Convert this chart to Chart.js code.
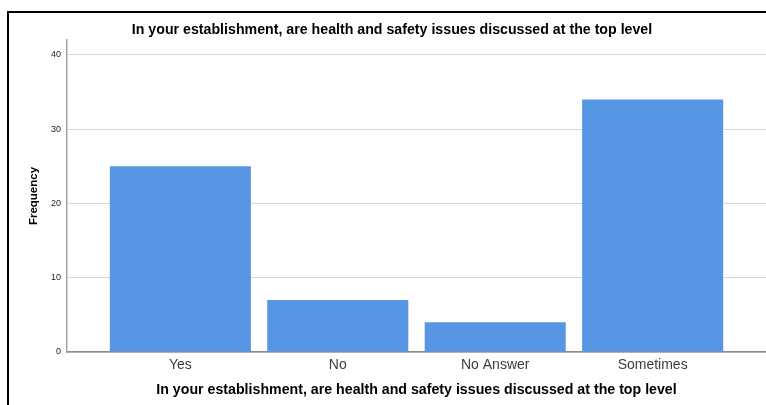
<!DOCTYPE html>
<html lang="en">
<head>
    <meta charset="UTF-8">
    <script src="https://cdn.jsdelivr.net/npm/chart.js"></script>
    <title>Health and safety at the top level</title>
    <style>
        body {
            margin: 0;
            padding: 0;
            background-color: #ffffff;
            font-family: Arial, "Liberation Sans", sans-serif;
        }

        .wrap {
            position: relative;
            width: 766px;
            height: 405px;
        }

        .frame {
            position: absolute;
            left: 7px;
            top: 11px;
            right: 0;
            bottom: 0;
            border-top: 2px solid #000;
            border-left: 2px solid #000;
            pointer-events: none;
        }
    </style>
</head>
<body>
    <div class="wrap">
        <canvas id="freqChart" width="766" height="405"></canvas>
        <div class="frame"></div>
    </div>

    <script>
        // data
        const categories = ['Yes', 'No', 'No Answer', 'Sometimes'];
        const frequencies = [25, 7, 4, 34];
        const yTicks = [0, 10, 20, 30, 40];

        const questionText = 'In your establishment, are health and safety issues discussed at the top level';
        const fontFamily = 'Arial, "Liberation Sans", sans-serif';

        const ctx = document.getElementById('freqChart').getContext('2d');
        new Chart(ctx, {
            type: 'bar',
            data: {
                datasets: [{
                    label: 'Frequency',
                    data: categories.map((c, i) => ({ x: i, y: frequencies[i] })),
                    backgroundColor: '#5795e5',
                    borderWidth: 0,
                    categoryPercentage: 1,
                    barPercentage: 0.896
                }]
            },
            options: {
                responsive: false,
                animation: false,
                layout: { padding: { left: 18, right: 0, top: 0, bottom: 0 } },
                plugins: {
                    legend: { display: false },
                    tooltip: { enabled: false },
                    title: {
                        display: true,
                        text: questionText,
                        color: '#000',
                        font: { family: fontFamily, size: 14.2, weight: 'bold' },
                        padding: { top: 22, bottom: 1 }
                    }
                },
                scales: {
                    x: {
                        type: 'linear',
                        min: -0.72,
                        max: 3.72,
                        offset: false,
                        grid: { display: false, drawTicks: false },
                        border: { display: true, color: '#8c8c8c', width: 1.5 },
                        afterBuildTicks: s => { s.ticks = categories.map((c, i) => ({ value: i })); },
                        afterFit: s => { s.height = 53; },
                        ticks: {
                            autoSkip: false,
                            maxRotation: 0,
                            padding: 5,
                            color: '#3c3c3c',
                            font: { family: fontFamily, size: 14 },
                            callback: v => categories[v]
                        },
                        title: {
                            display: true,
                            text: questionText,
                            color: '#000',
                            font: { family: fontFamily, size: 14.2, weight: 'bold' },
                            padding: { top: 4, bottom: 6 }
                        }
                    },
                    y: {
                        min: 0,
                        max: 42,
                        afterBuildTicks: s => { s.ticks = yTicks.map(v => ({ value: v })); },
                        afterFit: s => { s.width = 49; },
                        grid: { color: '#d6d6d6', lineWidth: 1, drawTicks: false },
                        border: { display: true, color: '#a6a6a6', width: 1.5 },
                        ticks: {
                            padding: 6,
                            color: '#222',
                            font: { family: fontFamily, size: 9 }
                        },
                        title: {
                            display: true,
                            text: 'Frequency',
                            color: '#000',
                            font: { family: fontFamily, size: 11.5, weight: 'bold' },
                            padding: { top: 9, bottom: 4 }
                        }
                    }
                }
            }
        });
    </script>
</body>
</html>
